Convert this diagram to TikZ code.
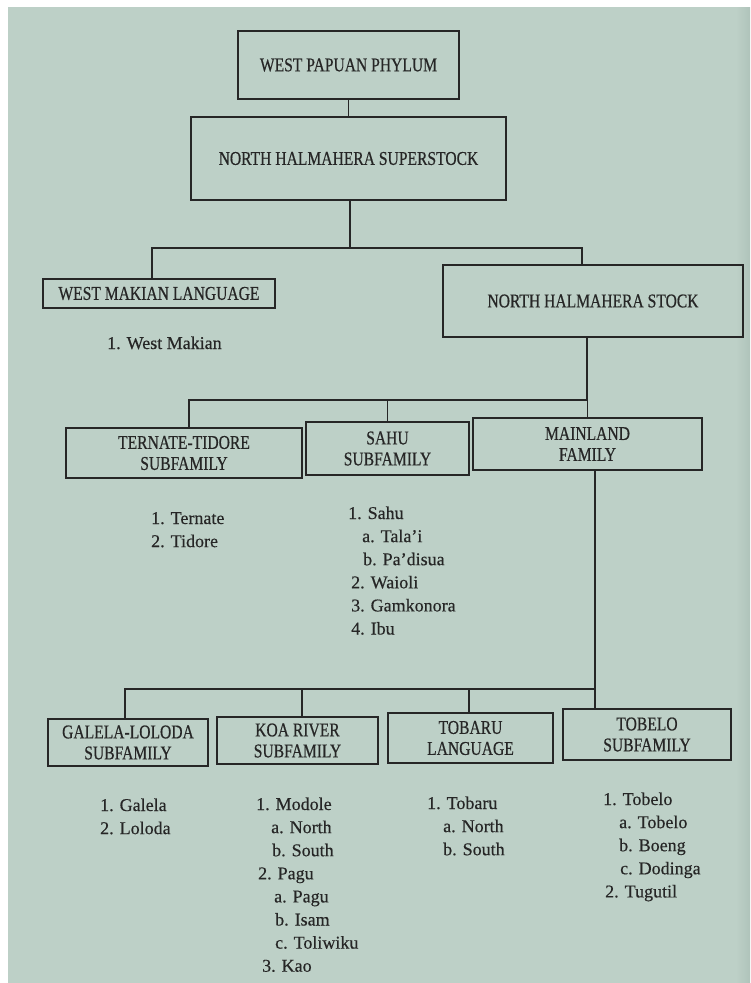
\documentclass[tikz,border=0pt]{standalone}
\usepackage{fontspec}
\setmainfont{Liberation Serif}[FakeBold=0.4]
\newfontfamily\boxfont[FakeStretch=0.8,FakeBold=0.5]{Liberation Serif}
\definecolor{pagebg}{RGB}{189,208,199}
\definecolor{pagedark}{RGB}{175,195,186}
\definecolor{ink}{RGB}{38,38,38}
\begin{document}
\begin{tikzpicture}[x=1pt,y=-1pt,
  box/.style={draw=ink, line width=1.3pt, rectangle, inner sep=0pt, align=center,
    text=ink, font=\boxfont\fontsize{19.5}{21}\selectfont},
  conn/.style={draw=ink, line width=1.2pt},
  lst/.style={anchor=base west, inner sep=0pt, text=ink,
    font=\fontsize{18}{23.1}\selectfont}]
\useasboundingbox (0,0) rectangle (750,983);
\fill[white] (0,0) rectangle (750,983);
\fill[pagebg] (8,7) rectangle (750,983);
\shade[left color=pagebg, right color=pagedark] (736,7) rectangle (750,983);

% boxes
\node[box, minimum width=221, minimum height=68] (wpp) at (348.5,65) {WEST PAPUAN PHYLUM};
\node[box, minimum width=315, minimum height=83] (sup) at (348.5,158.5) {NORTH HALMAHERA SUPERSTOCK};
\node[box, minimum width=232, minimum height=29] (wm) at (159,293.5) {WEST MAKIAN LANGUAGE};
\node[box, minimum width=300, minimum height=72] (nhs) at (593,301) {NORTH HALMAHERA STOCK};
\node[box, minimum width=236, minimum height=50] (tt) at (184,453) {TERNATE-TIDORE\\SUBFAMILY};
\node[box, minimum width=163, minimum height=53] (sahu) at (387.5,448.5) {SAHU\\SUBFAMILY};
\node[box, minimum width=229, minimum height=52] (main) at (587.5,444) {MAINLAND\\FAMILY};
\node[box, minimum width=160, minimum height=47] (gal) at (128,742.5) {GALELA-LOLODA\\SUBFAMILY};
\node[box, minimum width=161, minimum height=47] (koa) at (297.5,740.5) {KOA RIVER\\SUBFAMILY};
\node[box, minimum width=165, minimum height=50] (tob) at (470.5,738) {TOBARU\\LANGUAGE};
\node[box, minimum width=168, minimum height=51] (tbl) at (647,734.5) {TOBELO\\SUBFAMILY};

% connectors
\draw[conn] (wpp.south) -- (sup.north);
\coordinate (j1) at (350,248);
\draw[conn] (sup.south -| j1) -- (j1);
\draw[conn] ([xshift=-7pt]wm.north) |- (j1) -| ([xshift=-11pt]nhs.north);

\coordinate (j2) at (587,400);
\draw[conn] (nhs.south -| j2) -- (j2);
\draw[conn] ([xshift=5pt]tt.north) |- (j2);
\draw[conn] (sahu.north) -- (sahu.north |- j2);
\draw[conn] (main.north) -- (main.north |- j2);

\coordinate (j3) at (595,689);
\draw[conn] (main.south -| j3) -- (tbl.north -| j3);
\draw[conn] ([xshift=-3pt]gal.north) |- (j3);
\draw[conn] ([xshift=4.5pt]koa.north) -- ([xshift=4.5pt]koa.north |- j3);
\draw[conn] ([xshift=-1.5pt]tob.north) -- ([xshift=-1.5pt]tob.north |- j3);

% lists
\node[lst] (lwm) at (107,349) {1. West Makian};
\node[lst] (ltt) at (151,524) {\vtop{\hbox{1. Ternate}\hbox{2. Tidore}}};
\node[lst] (lsahu) at (348,519) {\vtop{\hbox{1. Sahu}\hbox{\hspace{14pt}a. Tala'i}\hbox{\hspace{15pt}b. Pa'disua}\hbox{\hspace{3pt}2. Waioli}\hbox{\hspace{3pt}3. Gamkonora}\hbox{\hspace{3pt}4. Ibu}}};
\node[lst] (lgal) at (100,811) {\vtop{\hbox{1. Galela}\hbox{2. Loloda}}};
\node[lst] (lkoa) at (256,810) {\vtop{\hbox{1. Modole}\hbox{\hspace{15pt}a. North}\hbox{\hspace{16pt}b. South}\hbox{\hspace{2pt}2. Pagu}\hbox{\hspace{18pt}a. Pagu}\hbox{\hspace{19pt}b. Isam}\hbox{\hspace{19pt}c. Toliwiku}\hbox{\hspace{6pt}3. Kao}}};
\node[lst] (ltob) at (427,809) {\vtop{\hbox{1. Tobaru}\hbox{\hspace{16pt}a. North}\hbox{\hspace{16pt}b. South}}};
\node[lst] (ltbl) at (603,805) {\vtop{\hbox{1. Tobelo}\hbox{\hspace{16pt}a. Tobelo}\hbox{\hspace{16pt}b. Boeng}\hbox{\hspace{17pt}c. Dodinga}\hbox{\hspace{2pt}2. Tugutil}}};
\end{tikzpicture}
\end{document}
